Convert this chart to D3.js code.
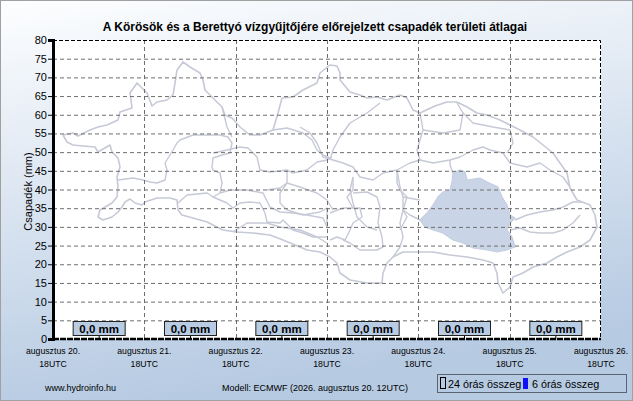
<!DOCTYPE html>
<html>
<head>
<meta charset="utf-8">
<script src="https://cdn.jsdelivr.net/npm/d3@7"></script>
<style>
  body { margin: 0; background: #fff; }
  svg { display: block; font-family: "Liberation Sans", Arial, sans-serif; }
</style>
</head>
<body>
<svg id="chart" width="633" height="401"></svg>
<script>
// ---- data ----
var dayLabels = ["augusztus 20.", "augusztus 21.", "augusztus 22.", "augusztus 23.",
                 "augusztus 24.", "augusztus 25.", "augusztus 26."];
var hourLabel = "18UTC";
var dailyTotals = [0, 0, 0, 0, 0, 0];           // 24 órás összeg, mm
var sixHourly = [0, 0, 0, 0, 0, 0, 0, 0, 0, 0, 0, 0,
                 0, 0, 0, 0, 0, 0, 0, 0, 0, 0, 0, 0]; // 6 órás összeg, mm
var yTicks = d3.range(0, 81, 5);

// background map of the watershed (image units of the original map picture)
var mapOutline = [[63,135],[73,133],[78,136],[90,130],[98,127],[107,125],[118,120],[120,112],[132,108],[130,93],
  [137,83],[142,88],[147,93],[152,106],[157,102],[167,100],[173,95],[175,83],[177,70],[183,62],[190,67],[200,73],
  [203,80],[205,90],[213,98],[222,107],[225,115],[232,118],[240,127],[250,135],[260,135],[273,130],[278,113],
  [282,98],[293,97],[303,90],[317,83],[320,73],[330,65],[337,66],[340,73],[340,80],[350,92],[360,95],[367,98],
  [377,97],[387,100],[400,95],[407,98],[413,110],[420,113],[435,106],[447,102],[457,102],[467,107],[477,113],
  [487,115],[500,120],[510,125],[520,130],[533,137],[543,145],[553,153],[560,163],[567,173],[570,188],[577,200],
  [590,205],[595,215],[597,227],[590,240],[580,247],[567,252],[557,257],[547,263],[533,267],[523,273],[513,277],
  [510,287],[503,293],[498,283],[497,273],[493,263],[483,260],[467,257],[450,255],[433,252],[420,252],[403,252],
  [393,257],[387,263],[383,273],[382,283],[367,283],[350,280],[340,273],[337,263],[330,257],[320,252],[307,250],
  [300,247],[283,240],[270,235],[253,233],[237,232],[223,230],[217,227],[207,222],[193,218],[182,215],[178,210],
  [177,200],[170,198],[157,198],[145,202],[142,205],[135,203],[130,199],[125,202],[122,207],[118,212],[112,217],
  [103,220],[98,217],[100,210],[112,203],[117,197],[118,187],[117,177],[120,167],[118,158],[112,152],[110,145],
  [98,152],[95,147],[83,146],[73,145],[67,142],[63,135]];

var mapInner = [
  [[118,180],[133,178],[143,180],[150,182],[157,183],[165,180],[167,170],[165,163],[170,155],[173,150],[177,143],
   [180,140],[193,135],[207,135],[220,135],[228,137],[232,143],[230,153],[222,155],[213,158],[212,167],[213,170],
   [220,173],[222,183],[220,193],[213,197],[227,203],[233,208],[240,203],[250,202],[260,203],[265,213],[267,222],
   [280,223],[283,220],[293,230],[303,233],[313,237],[327,237]],
  [[222,107],[227,127],[232,137]],
  [[213,153],[227,150],[240,147],[248,148],[257,157],[260,170],[270,172],[287,170],[293,173],[307,170],[317,162],
   [327,160],[332,157]],
  [[273,130],[287,128],[303,133],[312,140],[317,150],[323,155],[330,158]],
  [[178,203],[187,195],[207,193],[213,197]],
  [[220,193],[230,190],[247,190],[263,193],[270,207],[280,212],[293,213],[307,215],[323,218],[327,227]],
  [[233,232],[247,223],[267,223],[280,227],[300,230],[317,237],[327,243]],
  [[287,170],[287,183],[280,188],[267,190]],
  [[287,183],[300,187],[317,193],[327,200],[333,210]],
  [[300,127],[310,133],[317,143],[323,157],[333,160],[343,163],[353,167],[360,177],[373,180],[383,173],[397,170],
   [410,163],[420,160]],
  [[330,160],[333,150],[340,137],[350,123],[367,113],[380,103]],
  [[420,113],[423,130],[420,140],[417,150],[420,160]],
  [[423,130],[443,133],[460,130],[463,113],[457,103]],
  [[420,160],[433,163],[450,160],[460,157],[473,150],[483,147],[490,150],[503,153],[510,163],[527,167],[540,163],
   [550,170],[563,177],[570,187]],
  [[463,113],[473,123],[493,127],[510,130],[513,143],[507,153]],
  [[353,177],[350,190],[353,203],[357,217],[367,227],[377,230]],
  [[397,170],[397,183],[400,190],[407,197],[403,210],[407,217],[400,230]],
  [[287,183],[280,193],[280,203],[287,210],[303,215],[320,212],[327,208],[327,227]],
  [[330,213],[343,208],[360,208],[362,217],[353,223],[350,230],[345,240],[337,237],[330,240]],
  [[353,177],[353,190],[347,197],[350,203],[353,208]],
  [[353,193],[367,192],[377,197],[380,207],[378,223],[382,237],[383,247],[377,250],[360,250],[350,243],[343,240]],
  [[397,170],[400,187],[403,197],[403,210],[400,223],[403,237],[400,247],[393,257]],
  [[403,197],[420,200]],
  [[515,220],[527,215],[540,212],[553,210],[563,207],[573,202],[583,202]],
  [[510,230],[520,228],[530,232],[540,233],[553,233],[563,230],[573,223],[580,215]],
  [[453,173],[450,165],[450,160]],
  [[420,220],[410,215],[403,210]]
];

var mapHighlight = [[453,173],[460,170],[465,172],[467,180],[480,178],[487,182],[498,187],[502,197],[507,205],
  [510,215],[515,218],[510,223],[507,230],[512,237],[515,247],[507,250],[497,252],[487,250],[473,248],[463,243],
  [453,240],[443,233],[433,230],[425,227],[420,220],[427,213],[433,205],[438,197],[443,192],[450,190],[452,182],
  [453,173]];

// ---- layout ----
var W = 633, H = 401;
var margin = { top: 40, right: 32, bottom: 62, left: 53 };
var innerW = W - margin.left - margin.right;
var innerH = H - margin.top - margin.bottom;

var svg = d3.select("#chart");

var defs = svg.append("defs");
var grad = defs.append("linearGradient").attr("id", "bg").attr("x1", 0).attr("y1", 0).attr("x2", 0.25).attr("y2", 1);
grad.append("stop").attr("offset", "0%").attr("stop-color", "#fdfeff");
grad.append("stop").attr("offset", "100%").attr("stop-color", "#b6cae2");

svg.append("rect").attr("x", 0.5).attr("y", 0.5).attr("width", W - 1).attr("height", H - 1)
  .attr("fill", "url(#bg)").attr("stroke", "#a0a0a0");

var x = d3.scaleLinear().domain([0, dailyTotals.length]).range([margin.left, margin.left + innerW]);
var y = d3.scaleLinear().domain([0, 80]).range([margin.top + innerH, margin.top]);

// map picture sits inside the plot area
var mapX = d3.scaleLinear().domain([53, 601]).range([x(0), x(6)]);
var mapY = d3.scaleLinear().domain([40, 339]).range([y(80), y(0)]);
var mapLine = d3.line().x(function(d) { return mapX(d[0]); }).y(function(d) { return mapY(d[1]); });

svg.append("rect").attr("x", x(0)).attr("y", y(80)).attr("width", innerW).attr("height", innerH).attr("fill", "#fff");

var map = svg.append("g").attr("class", "map");
map.append("path").attr("d", mapLine(mapHighlight)).attr("fill", "#c9d5e6").attr("stroke", "#c4cee0").attr("stroke-width", 1.2);
map.append("path").attr("d", mapLine(mapOutline)).attr("fill", "none")
  .attr("stroke", "#c6c9d6").attr("stroke-width", 1.6).attr("stroke-linejoin", "round");
map.selectAll("path.inner").data(mapInner).enter().append("path").attr("class", "inner")
  .attr("d", mapLine).attr("fill", "none").attr("stroke", "#c6c9d6").attr("stroke-width", 1.4)
  .attr("stroke-linejoin", "round");

// grid
var grid = svg.append("g").attr("stroke", "#6e6e6e").attr("stroke-dasharray", "4,3").attr("stroke-width", 1);
grid.selectAll("line.h").data(yTicks.filter(function(t) { return t > 0 && t < 80; })).enter().append("line")
  .attr("x1", x(0)).attr("x2", x(6)).attr("y1", function(d) { return y(d) + 0.5; }).attr("y2", function(d) { return y(d) + 0.5; });
grid.selectAll("line.v").data(d3.range(1, 6)).enter().append("line")
  .attr("y1", y(80)).attr("y2", y(0)).attr("x1", function(d) { return Math.round(x(d)) + 0.5; })
  .attr("x2", function(d) { return Math.round(x(d)) + 0.5; });

// top and right frame
svg.append("path").attr("d", "M" + x(0) + "," + (y(80) + 0.5) + "H" + (x(6) - 0.5) + "V" + y(0))
  .attr("fill", "none").attr("stroke", "#000").attr("stroke-dasharray", "4,2");

// 6 hour bars (all zero in this forecast)
svg.selectAll("rect.bar6").data(sixHourly).enter().append("rect").attr("class", "bar6")
  .attr("x", function(d, i) { return x(i / 4) + 2; }).attr("width", innerW / 24 - 4)
  .attr("y", function(d) { return y(d); }).attr("height", function(d) { return y(0) - y(d); })
  .attr("fill", "#1010ff");

// axes
var yAxis = d3.axisLeft(y).tickValues(yTicks).tickSize(5).tickPadding(1);
var gy = svg.append("g").attr("transform", "translate(" + x(0) + ",0)").call(yAxis);
gy.select(".domain").attr("stroke", "#000").attr("stroke-width", 3);
gy.selectAll("text").attr("font-size", 11).attr("fill", "#000");

var gx = svg.append("g").attr("transform", "translate(0," + y(0) + ")");
gx.append("line").attr("x1", x(0)).attr("x2", x(6)).attr("stroke", "#000").attr("stroke-width", 2.5)
  .attr("stroke-dasharray", "6,1");
var xt = gx.selectAll("g.tick").data(dayLabels).enter().append("g").attr("class", "tick")
  .attr("transform", function(d, i) { return "translate(" + x(i) + ",0)"; });
xt.append("text").attr("y", 15).attr("text-anchor", "middle").attr("font-size", 8.7).text(function(d) { return d; });
xt.append("text").attr("y", 27.5).attr("text-anchor", "middle").attr("font-size", 8.7).text(hourLabel);

// daily total boxes
var boxes = svg.selectAll("g.total").data(dailyTotals).enter().append("g").attr("class", "total")
  .attr("transform", function(d, i) { return "translate(" + x(i + 0.5) + ",0)"; });
boxes.append("line").attr("x1", 0.5).attr("x2", 0.5).attr("y1", y(0) - 4).attr("y2", y(0)).attr("stroke", "#000");
boxes.append("rect").attr("x", -25.5).attr("y", y(0) - 17.5).attr("width", 52).attr("height", 14)
  .attr("fill", "#b8cce4").attr("stroke", "#222");
boxes.append("text").attr("x", 0.5).attr("y", y(0) - 6.5).attr("text-anchor", "middle")
  .attr("font-size", 11.5).attr("font-weight", "bold").text(function(d) { return d.toFixed(1).replace(".", ",") + " mm"; });

// titles
svg.append("text").attr("x", 315).attr("y", 31).attr("text-anchor", "middle").attr("font-size", 12)
  .attr("font-weight", "bold").text("A Körösök és a Berettyó vízgyűjtőjére előrejelzett csapadék területi átlagai");
svg.append("text").attr("transform", "translate(32," + (y(40) + 2) + ") rotate(-90)").attr("text-anchor", "middle")
  .attr("font-size", 11).text("Csapadék (mm)");

// footer
svg.append("text").attr("x", 45).attr("y", 391).attr("font-size", 9).text("www.hydroinfo.hu");
svg.append("text").attr("x", 222).attr("y", 391).attr("font-size", 9).text("Modell: ECMWF (2026. augusztus 20. 12UTC)");

var legend = svg.append("g").attr("transform", "translate(437,374)");
legend.append("rect").attr("x", 0.5).attr("y", 0.5).attr("width", 189).attr("height", 18)
  .attr("fill", "none").attr("stroke", "#000").attr("stroke-dasharray", "1,1");
legend.append("rect").attr("x", 3.5).attr("y", 3.5).attr("width", 5).attr("height", 11).attr("fill", "none").attr("stroke", "#000");
legend.append("text").attr("x", 11).attr("y", 14).attr("font-size", 10.8).text("24 órás összeg");
legend.append("rect").attr("x", 86).attr("y", 4).attr("width", 5).attr("height", 11).attr("fill", "#1010ff");
legend.append("text").attr("x", 95).attr("y", 14).attr("font-size", 10.8).text("6 órás összeg");
</script>
</body>
</html>
